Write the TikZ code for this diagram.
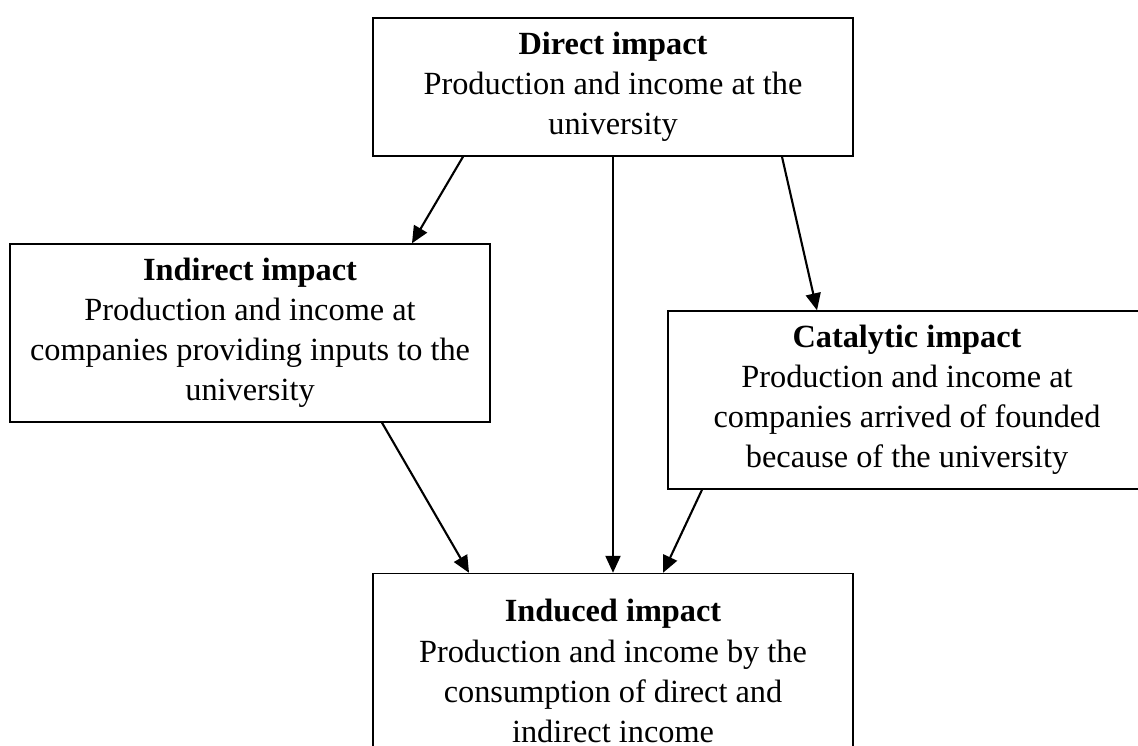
\documentclass[tikz,border=0pt]{standalone}
\usepackage{fontspec}
\setmainfont{Liberation Serif}
\usetikzlibrary{arrows.meta}

\begin{document}
\begin{tikzpicture}[x=0.02cm,y=-0.02cm,
		impact/.style={draw, line width=0.8pt, align=center, inner sep=0pt,
			font=\fontsize{18.4}{22.8}\selectfont},
		flow/.style={line width=1.2pt, -{Triangle[length=0.34cm,width=0.3cm]}}]

		\path[use as bounding box, clip] (0,0) rectangle (1138,746);

		\node[impact, minimum width=9.6cm, minimum height=2.76cm] (direct) at (613,87)
			{\textbf{Direct impact}\\Production and income at the\\university};
		\node[impact, minimum width=9.6cm, minimum height=3.56cm] (indirect) at (250,333)
			{\textbf{Indirect impact}\\Production and income at\\companies providing inputs to the\\university};
		\node[impact, minimum width=9.56cm, minimum height=3.56cm] (catalytic) at (907,400)
			{\textbf{Catalytic impact}\\Production and income at\\companies arrived of founded\\because of the university};
		\node[impact, minimum width=9.6cm, minimum height=3.9cm] (induced) at (613,671)
			{\textbf{Induced impact}\\Production and income by the\\consumption of direct and\\indirect income};

		\draw[flow] ([xshift=-3cm]direct.south) -- ([xshift=3.24cm]indirect.north);
		\draw[flow] (direct.south) -- (induced.north);
		\draw[flow] ([xshift=3.38cm]direct.south) -- ([xshift=-1.8cm]catalytic.north);
		\draw[flow] ([xshift=2.64cm]indirect.south) -- ([xshift=-2.88cm]induced.north);
		\draw[flow] ([xshift=-4.1cm]catalytic.south) -- ([xshift=1cm]induced.north);
	\end{tikzpicture}
\end{document}
